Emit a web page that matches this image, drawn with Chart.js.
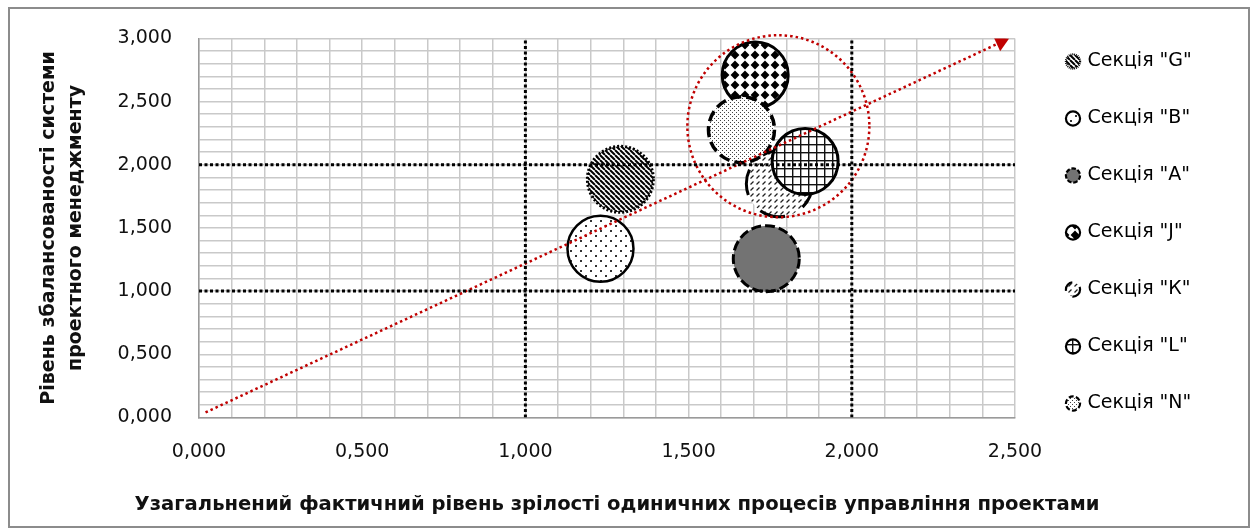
<!DOCTYPE html>
<html lang="uk">
<head>
<meta charset="utf-8">
<title>Рівень зрілості та збалансованості секцій</title>
<script src="https://cdn.jsdelivr.net/npm/chart.js@4.4.1/dist/chart.umd.min.js"></script>
<style>
  html, body { margin: 0; padding: 0; background: #ffffff; }
  #chart { display: block; }
</style>
</head>
<body>
<canvas id="chart" width="1254" height="532"></canvas>
<script>
// ---------------- data ----------------
const sectionNames   = ['Секція "G"', 'Секція "B"', 'Секція "A"', 'Секція "J"', 'Секція "К"', 'Секція "L"', 'Секція "N"'];
const maturityValues = [1.291, 1.230, 1.738, 1.704, 1.778, 1.857, 1.662];   // x: узагальнений фактичний рівень зрілості
const balanceValues  = [1.885, 1.335, 1.257, 2.710, 1.850, 2.026, 2.278];   // y: рівень збалансованості

const xRange = [0, 2.5];
const yRange = [0, 3.0];
const levelThresholds = [1, 2];            // dotted boundaries on both axes
const trendX = [0.02, 2.457];              // development direction arrow
const trendY = [0.04, 2.97];
const clusterX = [1.775];                  // leading group outline
const clusterY = [2.305];

// ---------------- layout & styles ----------------
const PLOT = { left: 199, top: 36, right: 1015, bottom: 418 };
const LEGEND = { left: 1030, top: 14, gap: 38, font: 19 };
const X_TITLE_CENTER = 617;
const BUBBLE_RADIUS = 33;
const CLUSTER_RADIUS = 91;
const FONT = 'DejaVu Sans';

const canvas = document.getElementById('chart');
const ctx = canvas.getContext('2d');

// small repeating tiles used as bubble fills
function tile(w, h, paint) {
  const c = document.createElement('canvas');
  c.width = w; c.height = h;
  const g = c.getContext('2d');
  g.fillStyle = '#ffffff';
  g.fillRect(0, 0, w, h);
  g.fillStyle = '#000000';
  g.strokeStyle = '#000000';
  paint(g, w, h);
  return ctx.createPattern(c, 'repeat');
}

const fills = {
  stripes: tile(5, 5, g => {
    g.lineWidth = 2;
    g.beginPath();
    for (const k of [-5, 0, 5]) { g.moveTo(k, 0); g.lineTo(k + 5, 5); }
    g.stroke();
  }),
  sparseDots: tile(10, 10, g => {
    g.fillStyle = '#333333';
    g.fillRect(0, 0, 2, 2);
    g.fillRect(5, 5, 2, 2);
  }),
  diamonds: tile(10, 10, g => {
    g.beginPath();
    g.moveTo(5, 0.6); g.lineTo(9.4, 5); g.lineTo(5, 9.4); g.lineTo(0.6, 5);
    g.closePath();
    g.fill();
  }),
  hatch: tile(6, 6, g => {
    g.strokeStyle = '#222222';
    g.lineWidth = 1.3;
    g.beginPath();
    g.moveTo(0.5, 4.5); g.lineTo(3.5, 1.5);
    g.stroke();
  }),
  grid: tile(8, 8, g => {
    g.fillStyle = '#111111';
    g.fillRect(0, 0, 8, 1.4);
    g.fillRect(0, 0, 1.4, 8);
  }),
  fineDots: tile(4, 4, g => {
    g.fillStyle = '#444444';
    g.fillRect(0, 0, 1, 1);
    g.fillRect(2, 2, 1, 1);
  })
};

const sectionStyles = [
  { fill: fills.stripes,    dash: [2, 2],   width: 3 },   // G
  { fill: fills.sparseDots, dash: [],       width: 2.5 }, // B
  { fill: '#737373',        dash: [10, 4],  width: 3 },   // A
  { fill: fills.diamonds,   dash: [],       width: 3 },   // J
  { fill: fills.hatch,      dash: [26, 20], width: 3 },   // К
  { fill: fills.grid,       dash: [],       width: 3 },   // L
  { fill: fills.fineDots,   dash: [11, 5],  width: 3.5 }  // N
];

// ---------------- datasets ----------------
const sectionDatasets = sectionNames.map((name, i) => ({
  type: 'bubble',
  label: name,
  data: [{ x: maturityValues[i], y: balanceValues[i] }],
  radius: BUBBLE_RADIUS,
  backgroundColor: sectionStyles[i].fill,
  borderColor: '#000000',
  borderWidth: sectionStyles[i].width,
  dash: sectionStyles[i].dash,
  order: sectionNames.length - i        // later sections are painted on top
}));

const boundaryStyle = {
  type: 'line',
  borderColor: '#000000',
  borderWidth: 3,
  borderDash: [3, 2.5],
  pointRadius: 0,
  fill: false,
  order: 0
};
const verticalBoundaries = levelThresholds.map(v => Object.assign({
  label: 'x = ' + v,
  data: [{ x: v, y: yRange[0] }, { x: v, y: yRange[1] }]
}, boundaryStyle));
const horizontalBoundaries = levelThresholds.map(v => Object.assign({
  label: 'y = ' + v,
  data: [{ x: xRange[0], y: v }, { x: xRange[1], y: v }]
}, boundaryStyle));

const trendDataset = {
  type: 'line',
  label: 'trend',
  data: trendX.map((x, i) => ({ x, y: trendY[i] })),
  borderColor: '#c00000',
  borderWidth: 2.5,
  borderDash: [2.5, 3],
  pointRadius: [0, 9],
  pointStyle: 'triangle',
  pointRotation: [0, 65],
  pointBackgroundColor: '#c00000',
  pointBorderWidth: 0,
  fill: false,
  order: 0
};

const clusterDataset = {
  type: 'bubble',
  label: 'cluster',
  data: clusterX.map((x, i) => ({ x, y: clusterY[i] })),
  radius: CLUSTER_RADIUS,
  backgroundColor: 'rgba(0,0,0,0)',
  borderColor: '#c00000',
  borderWidth: 2.5,
  dash: [2.5, 3],
  clip: false,
  order: 0
};

// ---------------- helpers ----------------
const fmt = v => v.toFixed(3).replace('.', ',');
const isMajor = v => Math.abs(v * 2 - Math.round(v * 2)) < 1e-6;

// dashed outlines for bubbles (point elements have no dash option)
const bubbleDash = {
  id: 'bubbleDash',
  beforeDatasetDraw(chart, args) {
    const ds = chart.data.datasets[args.index];
    chart.ctx.save();
    if (ds.dash) chart.ctx.setLineDash(ds.dash);
  },
  afterDatasetDraw(chart) {
    chart.ctx.restore();
  }
};

// white page with a thin grey frame
const frame = {
  id: 'frame',
  beforeDraw(chart) {
    const c = chart.ctx;
    c.save();
    c.fillStyle = '#ffffff';
    c.fillRect(0, 0, chart.width, chart.height);
    c.strokeStyle = '#8c8c8c';
    c.lineWidth = 2;
    c.strokeRect(9, 8, 1240, 519);
    c.restore();
  }
};

// legend column and bottom title placement
const placeBlocks = {
  id: 'placeBlocks',
  afterLayout(chart) {
    const lg = chart.legend;
    lg.left = LEGEND.left;
    lg.right = chart.width;
    lg.top = LEGEND.top;
    lg.bottom = chart.height;
    const tb = chart.titleBlock;
    tb.left = X_TITLE_CENTER - 600;
    tb.right = X_TITLE_CENTER + 600;
  }
};

Chart.defaults.font.family = FONT;
Chart.defaults.color = '#111111';

new Chart(ctx, {
  type: 'bubble',
  data: {
    datasets: [
      ...sectionDatasets,
      ...verticalBoundaries,
      ...horizontalBoundaries,
      trendDataset,
      clusterDataset
    ]
  },
  options: {
    responsive: false,
    devicePixelRatio: 1,
    animation: false,
    events: [],
    layout: {
      autoPadding: false,
      padding: { left: PLOT.left - 163, top: PLOT.top, right: 1254 - PLOT.right - 120, bottom: 0 }
    },
    scales: {
      x: {
        type: 'linear',
        min: xRange[0],
        max: xRange[1],
        afterFit(s) { s.height = 72; },
        ticks: {
          stepSize: 0.1,
          autoSkip: false,
          maxRotation: 0,
          minRotation: 0,
          padding: 23,
          font: { size: 19 },
          color: '#111111',
          callback: v => (isMajor(v) ? fmt(v) : '')
        },
        grid: { color: '#c9c9c9', lineWidth: 1.5, drawTicks: false },
        border: { color: '#9a9a9a', width: 1.5 }
      },
      y: {
        type: 'linear',
        min: yRange[0],
        max: yRange[1],
        afterFit(s) { s.width = 163; },
        ticks: {
          stepSize: 0.1,
          autoSkip: false,
          padding: 27,
          font: { size: 19 },
          color: '#111111',
          callback: v => (isMajor(v) ? fmt(v) : '')
        },
        grid: { color: '#c9c9c9', lineWidth: 1.5, drawTicks: false },
        border: { color: '#9a9a9a', width: 1.5 },
        title: {
          display: true,
          text: ['Рівень збалансованості системи', 'проектного менеджменту'],
          font: { size: 19, weight: 'bold', lineHeight: 1.42 },
          color: '#111111',
          padding: { top: 0, bottom: 0 }
        }
      }
    },
    plugins: {
      tooltip: { enabled: false },
      title: {
        display: true,
        position: 'bottom',
        text: 'Узагальнений фактичний рівень зрілості одиничних процесів управління проектами',
        font: { size: 19.6, weight: 'bold', lineHeight: 1.2 },
        color: '#111111',
        padding: { top: 4, bottom: 15 }
      },
      legend: {
        display: true,
        position: 'right',
        align: 'start',
        maxWidth: 120,
        labels: {
          usePointStyle: true,
          pointStyle: 'circle',
          boxWidth: 10,
          boxHeight: 10,
          padding: LEGEND.gap,
          color: '#000000',
          font: { size: LEGEND.font },
          generateLabels(chart) {
            const items = Chart.defaults.plugins.legend.labels.generateLabels(chart);
            return items
              .filter(it => it.datasetIndex < sectionNames.length)
              .map(it => {
                const st = sectionStyles[it.datasetIndex];
                it.lineDash = st.dash.map(d => d * 0.45);
                it.lineWidth = 2.2;
                it.strokeStyle = '#000000';
                return it;
              })
              .sort((a, b) => a.datasetIndex - b.datasetIndex);
          }
        }
      }
    }
  },
  plugins: [frame, bubbleDash, placeBlocks]
});
</script>
</body>
</html>
